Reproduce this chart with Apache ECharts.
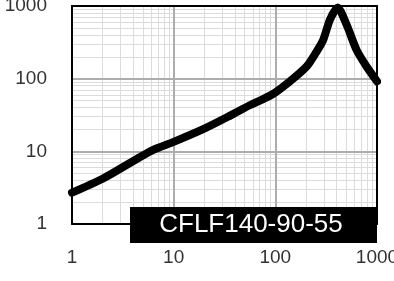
<!DOCTYPE html>
<html>
<head>
<meta charset="utf-8">
<script src="https://cdn.jsdelivr.net/npm/echarts@6/dist/echarts.min.js"></script>
<style>
html,body{margin:0;padding:0;background:#fff;}
#chart{width:394px;height:281px;}
</style>
</head>
<body>
<div id="chart"></div>
<script>
// Curve (frequency vs impedance)
const freq  = [1, 2, 4.3, 6.3, 10, 20, 36, 56, 92, 139, 203, 250, 296, 344, 410, 503, 629, 789, 1000];
const imped = [2.7, 4.2, 7.8, 10.5, 13.5, 20.5, 31, 43, 60, 92, 147, 226, 342, 645, 950, 550, 249, 147, 92];

// Grid lines
const xMajorGrid = [10, 100];
const xMinorGrid = [2, 3, 4, 5, 6, 7, 8, 9, 20, 30, 40, 50, 60, 70, 80, 90, 200, 300, 400, 500, 600, 700, 800, 900];
const yMajorGrid = [10, 100];
const yMinorGrid = [2, 3, 4, 5, 6, 7, 8, 9, 20, 30, 40, 50, 60, 70, 80, 90, 200, 300, 400, 500, 600, 700, 800, 900];

const labelText = 'CFLF140-90-55';

const FONT = '"Liberation Sans", Arial, sans-serif';
const minorStyle = {color: '#dcdcdc', width: 1, type: 'solid'};
const majorStyle = {color: '#adadad', width: 2, type: 'solid'};

const gridLines = []
  .concat(xMinorGrid.map(v => ({xAxis: v, lineStyle: minorStyle})))
  .concat(yMinorGrid.map(v => ({yAxis: v, lineStyle: minorStyle})))
  .concat(xMajorGrid.map(v => ({xAxis: v, lineStyle: majorStyle})))
  .concat(yMajorGrid.map(v => ({yAxis: v, lineStyle: majorStyle})));

const chart = echarts.init(document.getElementById('chart'), null, {renderer: 'canvas'});

const baseAxis = {
  type: 'log', logBase: 10, min: 1, max: 1000,
  splitLine: {show: false}, axisTick: {show: false},
  axisLine: {show: true, lineStyle: {color: '#000', width: 2}},
  z: 3
};

chart.setOption({
  animation: false,
  backgroundColor: '#fff',
  grid: {left: 72, top: 6, width: 305, height: 218, show: false, containLabel: false, outerBoundsMode: 'none'},
  xAxis: [
    Object.assign({}, baseAxis, {
      position: 'bottom',
      axisLabel: {show: true, margin: 24, fontSize: 19, color: '#333', fontFamily: FONT,
        formatter: v => String(Math.round(v)), showMaxLabel: true, showMinLabel: true,
        alignMinLabel: 'center', alignMaxLabel: 'center', hideOverlap: false}
    }),
    Object.assign({}, baseAxis, {position: 'top', axisLabel: {show: false}})
  ],
  yAxis: [
    Object.assign({}, baseAxis, {
      position: 'left',
      axisLabel: {show: true, margin: 25, fontSize: 19, color: '#333', fontFamily: FONT,
        formatter: v => String(Math.round(v))}
    }),
    Object.assign({}, baseAxis, {position: 'right', axisLabel: {show: false}})
  ],
  series: [
    {
      type: 'line',
      xAxisIndex: 0, yAxisIndex: 0,
      data: freq.map((f, i) => [f, imped[i]]),
      showSymbol: false,
      symbol: 'none',
      smooth: 0.25,
      lineStyle: {color: '#000', width: 8, join: 'round', cap: 'round'},
      z: 2,
      markLine: {
        silent: true,
        symbol: 'none',
        z: 1,
        animation: false,
        label: {show: false},
        emphasis: {disabled: true},
        data: gridLines
      }
    }
  ],
  graphic: [
    {
      type: 'group', z: 10,
      children: [
        {type: 'rect', shape: {x: 130, y: 207, width: 247, height: 36}, style: {fill: '#000'}, z: 10},
        {type: 'text', x: 251, y: 225, z: 11,
          style: {text: labelText, fill: '#fff', font: '26px ' + FONT, textAlign: 'center', textVerticalAlign: 'middle'}}
      ]
    }
  ]
});
</script>
</body>
</html>
